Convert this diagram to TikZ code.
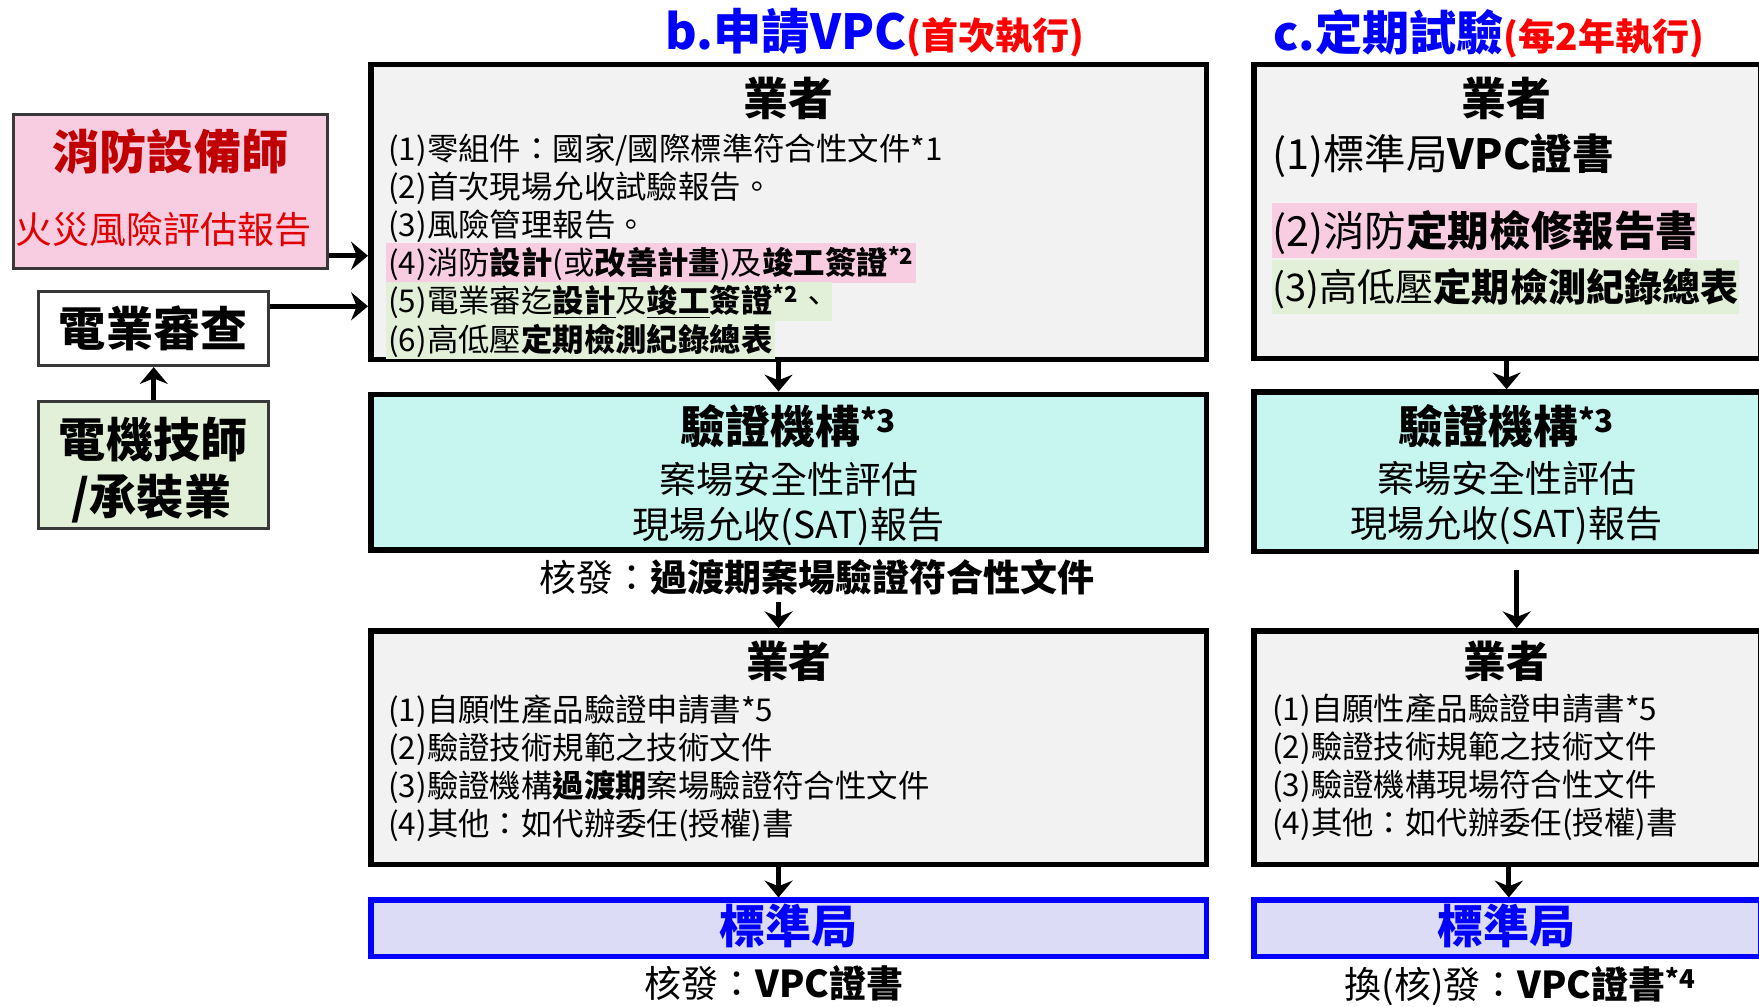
\documentclass[tikz,border=0pt]{standalone}
\usepackage{fontspec}
\setmainfont{Noto Sans CJK TC}
\usetikzlibrary{arrows.meta}
\definecolor{pinkhl}{HTML}{F9CDE1}
\definecolor{greenhl}{HTML}{E2F0D9}
\definecolor{cyanbox}{HTML}{C7F5EF}
\definecolor{lavbox}{HTML}{DCDCF6}
\definecolor{graybox}{HTML}{F2F2F2}
\definecolor{vblue}{HTML}{0000FF}
\definecolor{vred}{HTML}{FF0000}
\definecolor{dred}{HTML}{C00000}
\definecolor{lred}{HTML}{E00000}
\newcommand\fs[1]{\fontsize{#1}{#1}\selectfont}
\begin{document}
\begin{tikzpicture}[x=1pt,y=-1pt,
  bigbox/.style={draw=black, line width=5pt, fill=graybox, inner sep=0pt},
  sbox/.style={draw=black!78, line width=2.5pt, inner sep=0pt},
  lbl/.style={inner sep=0pt, anchor=base},
  item/.style={inner sep=0pt, anchor=base west, font=\fs{28}},
  hl/.style={item, inner xsep=2pt, text height=28pt, text depth=7pt},
  arr/.style={line width=4.5pt, -{Stealth[length=15pt,width=25pt,inset=5pt]}}]
\useasboundingbox (0,0) rectangle (1568,897);
\clip (0,0) rectangle (1568,897);
\fill[white] (0,0) rectangle (1568,897);

% ---------- boxes ----------
\node[bigbox, minimum width=745pt, minimum height=263pt] (b1) at (703,189) {};
\node[bigbox, fill=cyanbox, minimum width=745pt, minimum height=139pt] (b2) at (703,421) {};
\node[bigbox, minimum width=745pt, minimum height=208pt] (b3) at (703,666.5) {};
\node[bigbox, draw=vblue, fill=lavbox, minimum width=745pt, minimum height=50pt] (b4) at (703,827.5) {};

\node[bigbox, minimum width=452pt, minimum height=262pt] (c1) at (1344,188.5) {};
\node[bigbox, fill=cyanbox, minimum width=452pt, minimum height=142pt] (c2) at (1344,420.5) {};
\node[bigbox, minimum width=452pt, minimum height=208pt] (c3) at (1344,666.5) {};
\node[bigbox, draw=vblue, fill=lavbox, minimum width=452pt, minimum height=50pt] (c4) at (1344,827.5) {};

\node[sbox, fill=pinkhl, minimum width=280pt, minimum height=137pt] (xf) at (152,170.5) {};
\node[sbox, fill=white, minimum width=205pt, minimum height=66pt] (dy) at (136.5,293) {};
\node[sbox, fill=greenhl, minimum width=205pt, minimum height=113pt] (dj) at (136.5,414.5) {};

% ---------- titles ----------
\node[lbl, anchor=base west] (tb) at (593,44) {\fs{43}\bfseries\color{vblue}b.申請VPC\fs{33}\color{vred}(首次執行)};
\node[lbl, anchor=base west] (tc) at (1135,45) {\fs{42}\bfseries\color{vblue}c.定期試驗\fs{33}\color{vred}(每2年執行)};

% ---------- left column ----------
\node[lbl, font=\fs{42}\bfseries, text=dred] (xf1) at (152,151) {消防設備師};
\node[lbl, font=\fs{33}, text=lred] (xf2) at (146,217) {火災風險評估報告};
\node[lbl, font=\fs{42}\bfseries] (dy1) at (136.5,309) {電業審查};
\node[lbl, font=\fs{42}\bfseries] (dj1) at (136.5,408) {電機技師};
\node[lbl, font=\fs{42}\bfseries] (dj2) at (135,459) {/承裝業};

% ---------- b column texts ----------
\node[lbl, font=\fs{40}\bfseries] (b1t) at (703,103) {業者};
\node[item] (b1a) at (346,143) {(1)零組件：國家/國際標準符合性文件*1};
\node[item] (b1b) at (346,177) {(2)首次現場允收試驗報告。};
\node[item] (b1c) at (346,211) {(3)風險管理報告。};
\node[hl, fill=pinkhl] (b1d) at (344,245) {(4)消防\textbf{設計}(或\textbf{改善計畫})及\textbf{竣工簽證}\textsuperscript{\bfseries *2}};
\node[hl, fill=greenhl] (b1e) at (344,279) {(5)電業審迄\underline{\textbf{設計}}及\underline{\textbf{竣工}}\textbf{簽證}\textsuperscript{\bfseries *2}、};
\node[hl, fill=greenhl] (b1f) at (344,313) {(6)高低壓\textbf{定期檢測紀錄總表}};

\node[lbl, font=\fs{40}\bfseries] (b2t) at (703,395) {驗證機構\textsuperscript{*3}};
\node[lbl, font=\fs{33}] (b2a) at (703,440) {案場安全性評估};
\node[lbl, font=\fs{33}] (b2b) at (703,480) {現場允收(SAT)報告};
\node[lbl, font=\fs{33}] (kf) at (728,527) {核發：\textbf{過渡期案場驗證符合性文件}};

\node[lbl, font=\fs{38}\bfseries] (b3t) at (703,604) {業者};
\node[item] (b3a) at (346,643) {(1)自願性產品驗證申請書*5};
\node[item] (b3b) at (346,677) {(2)驗證技術規範之技術文件};
\node[item] (b3c) at (346,711) {(3)驗證機構\textbf{過渡期}案場驗證符合性文件};
\node[item] (b3d) at (346,745) {(4)其他：如代辦委任(授權)書};

\node[lbl, font=\fs{41}\bfseries, text=vblue] (b4t) at (703,841) {標準局};
\node[lbl, font=\fs{33}] (b5) at (690,889) {核發：\textbf{VPC證書}};

% ---------- c column texts ----------
\node[lbl, font=\fs{40}\bfseries] (c1t) at (1343,103) {業者};
\node[item, font=\fs{37}] (c1a) at (1134,151) {(1)標準局\textbf{VPC證書}};
\node[item, font=\fs{37}, fill=pinkhl, inner xsep=0pt, text height=39pt, text depth=10pt] (c1b) at (1134,220) {(2)消防\textbf{定期檢修報告書}};
\node[item, font=\fs{34}, fill=greenhl, inner xsep=0pt, text height=37pt, text depth=11pt] (c1c) at (1134,269) {(3)高低壓\textbf{定期檢測紀錄總表}};

\node[lbl, font=\fs{40}\bfseries] (c2t) at (1343,395) {驗證機構\textsuperscript{*3}};
\node[lbl, font=\fs{33}] (c2a) at (1343,439) {案場安全性評估};
\node[lbl, font=\fs{33}] (c2b) at (1343,479) {現場允收(SAT)報告};

\node[lbl, font=\fs{38}\bfseries] (c3t) at (1343,604) {業者};
\node[item] (c3a) at (1134,642) {(1)自願性產品驗證申請書*5};
\node[item] (c3b) at (1134,676) {(2)驗證技術規範之技術文件};
\node[item] (c3c) at (1134,710) {(3)驗證機構現場符合性文件};
\node[item] (c3d) at (1134,744) {(4)其他：如代辦委任(授權)書};

\node[lbl, font=\fs{41}\bfseries, text=vblue] (c4t) at (1343,841) {標準局};
\node[lbl, font=\fs{33}] (c5) at (1355,890) {換(核)發：\textbf{VPC證書}\textsuperscript{\bfseries *4}};

% ---------- connectors ----------
\coordinate (ab) at (694,0);
\coordinate (kfs) at (694,537);
\coordinate (ac) at (1343,0);
\coordinate (ac3) at (1345,0);
\coordinate (c23s) at (1352,508);
\coordinate (ya) at (0,228);
\coordinate (yb) at (0,273);
\coordinate (xl) at (137,0);

\draw[arr] (ab |- b1.south) -- (ab |- b2.north);
\draw[arr] (kfs) -- (kfs |- b3.north);
\draw[arr] (ab |- b3.south) -- (ab |- b4.north);
\draw[arr] (ac |- c1.south) -- (ac |- c2.north);
\draw[arr] (c23s) -- (c23s |- c3.north);
\draw[arr] (ac3 |- c3.south) -- (ac3 |- c4.north);
\draw[arr] (xf.east |- ya) -- (b1.west |- ya);
\draw[arr] (dy.east |- yb) -- (b1.west |- yb);
\draw[arr] (xl |- dj.north) -- (xl |- dy.south);
\end{tikzpicture}
\end{document}
